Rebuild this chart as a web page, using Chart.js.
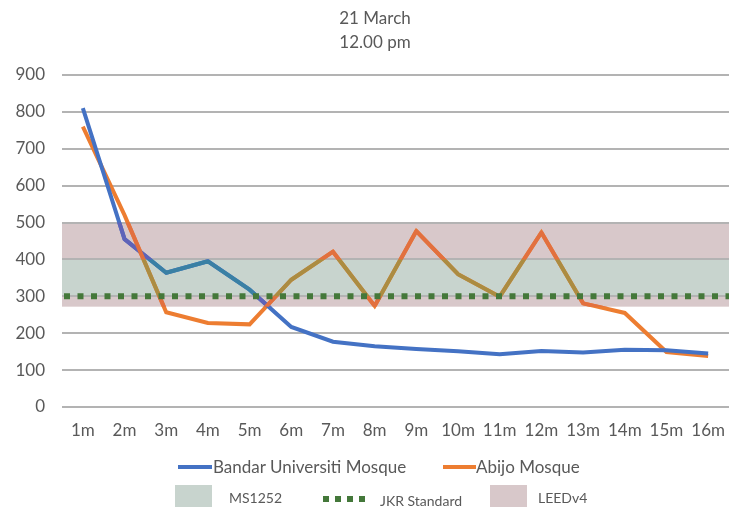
<!DOCTYPE html>
<html>
<head>
<meta charset="utf-8">
<script src="https://cdn.jsdelivr.net/npm/chart.js@4"></script>
<style>
  html, body { margin: 0; padding: 0; background: #fff; }
  body { width: 738px; height: 509px; position: relative; overflow: hidden; font-family: Lato, "Open Sans", sans-serif; color: #595959; }
  #chart { position: absolute; left: 0; top: 0; }
  .title { position: absolute; left: 275px; width: 200px; text-align: center; font-size: 17px; line-height: 20px; }
  .lg { position: absolute; white-space: nowrap; }
  .t1 { font-size: 17px; line-height: 20px; }
  .t2 { font-size: 14px; line-height: 18px; }
  .ln { position: absolute; height: 4px; }
  .box { position: absolute; }
  .sq { position: absolute; width: 6px; height: 6px; background: #44783a; }
</style>
</head>
<body>
<canvas id="chart" width="738" height="470"></canvas>
<div class="title" style="top:8px">21 March</div>
<div class="title" style="top:32px">12.00 pm</div>

<div class="ln" style="left:178px;top:465px;width:34px;background:#4472c4"></div>
<div class="lg t1" style="left:213px;top:457px">Bandar Universiti Mosque</div>
<div class="ln" style="left:443px;top:465px;width:33px;background:#ed7d31"></div>
<div class="lg t1" style="left:476px;top:457px">Abijo Mosque</div>

<div class="box" style="left:175px;top:485px;width:37px;height:22px;background:#c8d4ce"></div>
<div class="lg t2" style="left:229px;top:489px">MS1252</div>
<div class="sq" style="left:323px;top:496px"></div>
<div class="sq" style="left:335px;top:496px"></div>
<div class="sq" style="left:347px;top:496px"></div>
<div class="sq" style="left:359px;top:496px"></div>
<div class="lg t2" style="left:380px;top:492px">JKR Standard</div>
<div class="box" style="left:490px;top:485px;width:37px;height:22px;background:#d8c8ca"></div>
<div class="lg t2" style="left:538px;top:489px">LEEDv4</div>

<script>
const categories = ['1m','2m','3m','4m','5m','6m','7m','8m','9m','10m','11m','12m','13m','14m','15m','16m'];
const bandarUniversiti = [810, 455, 364, 395, 318, 217, 177, 165, 157, 151, 143, 152, 148, 155, 154, 145];
const abijo = [760, 520, 257, 228, 224, 345, 421, 274, 477, 360, 299, 473, 281, 255, 149, 138];
const yTicks = [0, 100, 200, 300, 400, 500, 600, 700, 800, 900];
const ms1252Band = [300, 400];
const leedBand = [272, 500];
const jkrStandard = 300;

const BLUE = '#4472c4', ORANGE = '#ed7d31';
const tintPink = { [BLUE]: '#5f63b8', [ORANGE]: '#e2703f' };
const tintGreen = { [BLUE]: '#3a80a4', [ORANGE]: '#ab8c42' };

function strokeDatasets(chart, ctx, tints) {
  chart.data.datasets.forEach((ds, i) => {
    const meta = chart.getDatasetMeta(i);
    if (!meta.visible) return;
    ctx.beginPath();
    meta.data.forEach((p, j) => { if (j === 0) ctx.moveTo(p.x, p.y); else ctx.lineTo(p.x, p.y); });
    ctx.strokeStyle = tints[ds.borderColor];
    ctx.lineWidth = ds.borderWidth;
    ctx.lineJoin = 'round';
    ctx.lineCap = 'round';
    ctx.stroke();
  });
}

const bandsPlugin = {
  id: 'bands',
  beforeDraw(chart) {
    const { ctx, chartArea: a, scales: { y } } = chart;
    ctx.save();
    const lt = y.getPixelForValue(leedBand[1]), lb = y.getPixelForValue(leedBand[0]);
    ctx.fillStyle = '#d8c8ca';
    ctx.fillRect(a.left, lt, a.right - a.left, lb - lt);
    const mt = y.getPixelForValue(ms1252Band[1]), mb = y.getPixelForValue(ms1252Band[0]);
    ctx.fillStyle = '#c8d4ce';
    ctx.fillRect(a.left, mt, a.right - a.left, mb - mt);
    ctx.restore();
  },
  afterDatasetsDraw(chart) {
    const { ctx, chartArea: a, scales: { y } } = chart;
    const lt = y.getPixelForValue(leedBand[1]), lb = y.getPixelForValue(leedBand[0]);
    const mt = y.getPixelForValue(ms1252Band[1]), mb = y.getPixelForValue(ms1252Band[0]);
    ctx.save();
    ctx.beginPath();
    ctx.rect(a.left, lt, a.right - a.left, mt - lt);
    ctx.rect(a.left, mb, a.right - a.left, lb - mb);
    ctx.clip();
    strokeDatasets(chart, ctx, tintPink);
    ctx.restore();
    ctx.save();
    ctx.beginPath();
    ctx.rect(a.left, mt, a.right - a.left, mb - mt);
    ctx.clip();
    strokeDatasets(chart, ctx, tintGreen);
    ctx.restore();
    const jy = y.getPixelForValue(jkrStandard);
    ctx.save();
    ctx.beginPath();
    ctx.setLineDash([6, 7.5]);
    ctx.lineWidth = 6;
    ctx.strokeStyle = '#44783a';
    ctx.moveTo(a.left + 2, jy);
    ctx.lineTo(a.right, jy);
    ctx.stroke();
    ctx.restore();
  }
};

new Chart(document.getElementById('chart'), {
  type: 'line',
  data: {
    labels: categories,
    datasets: [
      { label: 'Bandar Universiti Mosque', data: bandarUniversiti, borderColor: BLUE, borderWidth: 4, pointRadius: 0, tension: 0, fill: false },
      { label: 'Abijo Mosque', data: abijo, borderColor: ORANGE, borderWidth: 4, pointRadius: 0, tension: 0, fill: false }
    ]
  },
  options: {
    responsive: false,
    animation: false,
    devicePixelRatio: 1,
    layout: { padding: { top: 75, left: 14, right: 0, bottom: 31 } },
    plugins: { legend: { display: false }, title: { display: false }, tooltip: { enabled: false } },
    scales: {
      x: {
        offset: true,
        grid: { display: false, drawTicks: false },
        border: { display: false },
        afterFit(scale) { scale.height = 32; },
        ticks: { color: '#595959', font: { family: 'Lato', size: 17 }, padding: 13, maxRotation: 0, autoSkip: false }
      },
      y: {
        min: 0, max: 900,
        afterBuildTicks(scale) { scale.ticks = yTicks.map(v => ({ value: v })); },
        afterFit(scale) { scale.width = 48; },
        grid: { color: '#b3b3b3', lineWidth: 2, drawTicks: false },
        border: { display: false },
        ticks: { color: '#595959', font: { family: 'Lato', size: 17 }, padding: 17 }
      }
    }
  },
  plugins: [bandsPlugin]
});
</script>
</body>
</html>
